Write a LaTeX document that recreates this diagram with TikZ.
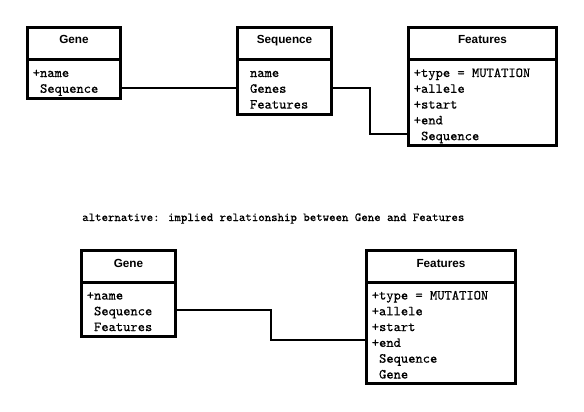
\documentclass[tikz,border=0pt]{standalone}
\usepackage{fontspec}
\newfontfamily\hdrfam{Liberation Sans}
\newfontfamily\rowfam{Latin Modern Mono}[FakeBold=0.4]
\newfontfamily\capfam{Latin Modern Mono}[FakeBold=0.2]
\tikzset{
  box/.style={draw, line width=2.25pt, inner sep=0pt, outer sep=0pt},
  divider/.style={line width=2.25pt},
  hdr/.style={anchor=base, inner sep=0pt, font=\hdrfam\bfseries\fontsize{8.8}{10}\selectfont},
  row/.style={anchor=base west, inner sep=0pt, font=\rowfam\fontsize{10.4}{12}\selectfont},
  caption/.style={anchor=base west, inner sep=0pt, font=\capfam\fontsize{9.2}{11}\selectfont},
  link/.style={line width=1.5pt},
}
\begin{document}
\begin{tikzpicture}[x=0.75pt, y=-0.75pt]
\useasboundingbox (0,0) rectangle (584,411);

% ---------- top diagram ----------
\node[box, minimum width=69.75pt, minimum height=53.25pt] (gene) at (74,63) {};
\node[box, minimum width=70.5pt, minimum height=65.25pt] (seq) at (284.5,71) {};
\node[box, minimum width=111pt, minimum height=88.5pt] (feat) at (482.5,86.5) {};

\draw[divider] (gene.west |- 0,59.5) -- (gene.east |- 0,59.5);
\draw[divider] (seq.west |- 0,59.5) -- (seq.east |- 0,59.5);
\draw[divider] (feat.west |- 0,59.5) -- (feat.east |- 0,59.5);

\node[hdr] (geneh) at (74,43.5) {Gene};
\node[hdr] (seqh) at (284.5,43.5) {Sequence};
\node[hdr] (feath) at (482.5,43.5) {Features};

\node[row] (g1) at (32.5,77) {+name};
\node[row] (g2) at (32.5,92.8) {~Sequence};

\node[row] (s1) at (242.5,77) {~name};
\node[row] (s2) at (242.5,92.8) {~Genes};
\node[row] (s3) at (242.5,108.6) {~Features};

\node[row] (f1) at (413.5,77) {+type = MUTATION};
\node[row] (f2) at (413.5,92.8) {+allele};
\node[row] (f3) at (413.5,108.6) {+start};
\node[row] (f4) at (413.5,124.4) {+end};
\node[row] (f5) at (413.5,140.2) {~Sequence};

\draw[link] (gene.east |- 0,88) -- (seq.west |- 0,88);
\draw[link] (seq.east |- 0,88) -- (370,88) -- (370,134) -- (feat.west |- 0,134);

% ---------- caption ----------
\node[caption] (cap) at (82,221) {alternative: implied relationship between Gene and Features};

% ---------- bottom diagram ----------
\node[box, minimum width=70.5pt, minimum height=64.5pt] (gene2) at (128.5,293.5) {};
\node[box, minimum width=111.75pt, minimum height=99.75pt] (feat2) at (441,317) {};

\draw[divider] (gene2.west |- 0,282.5) -- (gene2.east |- 0,282.5);
\draw[divider] (feat2.west |- 0,282.5) -- (feat2.east |- 0,282.5);

\node[hdr] (gene2h) at (128.5,267) {Gene};
\node[hdr] (feat2h) at (441,267) {Features};

\node[row] (h1) at (86.5,299.5) {+name};
\node[row] (h2) at (86.5,315.3) {~Sequence};
\node[row] (h3) at (86.5,331.1) {~Features};

\node[row] (k1) at (371.5,299.5) {+type = MUTATION};
\node[row] (k2) at (371.5,315.3) {+allele};
\node[row] (k3) at (371.5,331.1) {+start};
\node[row] (k4) at (371.5,346.9) {+end};
\node[row] (k5) at (371.5,362.7) {~Sequence};
\node[row] (k6) at (371.5,378.5) {~Gene};

\draw[link] (gene2.east |- 0,310) -- (271,310) -- (271,340) -- (feat2.west |- 0,340);
\end{tikzpicture}
\end{document}
